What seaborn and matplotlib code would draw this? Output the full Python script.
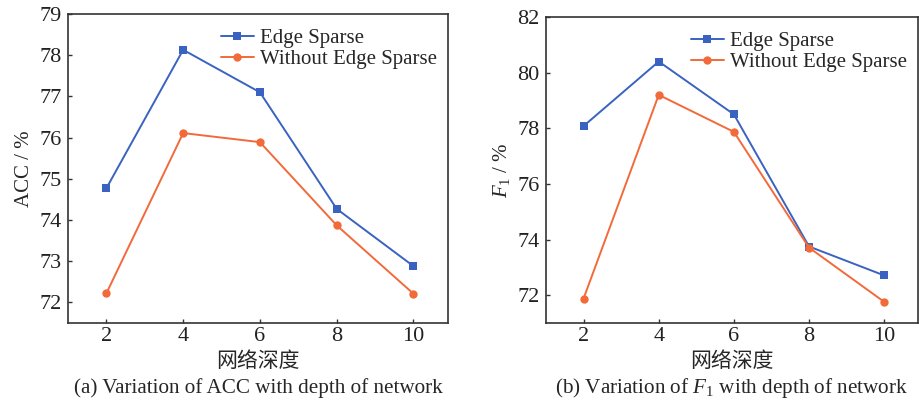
import matplotlib
matplotlib.use("Agg")
import matplotlib.pyplot as plt
import seaborn as sns
import pandas as pd

depth = [2, 4, 6, 8, 10]
acc_edge = [74.77, 78.13, 77.10, 74.27, 72.88]
acc_without = [72.22, 76.11, 75.89, 73.87, 72.21]
f1_edge = [78.08, 80.40, 78.50, 73.75, 72.71]
f1_without = [71.88, 79.20, 77.87, 73.71, 71.76]
series_names = ["Edge Sparse", "Without Edge Sparse"]
acc_ticks = [72, 73, 74, 75, 76, 77, 78, 79]
f1_ticks = [72, 74, 76, 78, 80, 82]
xlabel = "网络深度"
captions = ["(a) Variation of ACC with depth of network",
            "(b) Variation of $F_1$ with depth of network"]

sns.set_theme(style="white")
plt.rcParams['font.family'] = ['Liberation Serif', 'Noto Sans CJK SC']
plt.rcParams['mathtext.fontset'] = 'custom'
plt.rcParams['mathtext.rm'] = 'Liberation Serif'
plt.rcParams['mathtext.it'] = 'Liberation Serif:italic'

colors = ["#3A62C0", "#F26A3A"]
markers = ["s", "o"]

fig = plt.figure(figsize=(9.19, 4.01), dpi=100)
ax1 = fig.add_axes([68/919, 1-323/401, (448-68)/919, (323-14)/401])
ax2 = fig.add_axes([546/919, 1-323/401, (918-546)/919, (323-17)/401])

def make_df(a, b):
    return pd.DataFrame({
        "depth": depth * 2,
        "value": a + b,
        "series": [series_names[0]] * len(depth) + [series_names[1]] * len(depth),
    })

for ax, a, b, ticks, ylim, ylab, cap in [
    (ax1, acc_edge, acc_without, acc_ticks, (71.5, 79), "ACC / %", captions[0]),
    (ax2, f1_edge, f1_without, f1_ticks, (71, 82), "$F_1$ / %", captions[1]),
]:
    df = make_df(a, b)
    sns.lineplot(data=df, x="depth", y="value", hue="series", style="series",
                 markers=markers, dashes=False, palette=colors, ax=ax,
                 markersize=6, linewidth=1.4, markeredgewidth=0)
    ax.set_xlim(1, 10.9)
    ax.set_ylim(*ylim)
    ax.set_xticks(depth)
    ax.set_yticks(ticks)
    ax.tick_params(axis="both", labelsize=16, direction="in", length=3,
                   width=1, left=True, bottom=True, colors="#333333",
                   labelcolor="#222222")
    ax.tick_params(axis="y", pad=4.5)
    ax.tick_params(axis="x", pad=3)
    for s in ax.spines.values():
        s.set_color("#333333")
        s.set_linewidth(1.2)
    ax.set_xlabel(xlabel, fontsize=15, family=['Noto Sans CJK SC'], labelpad=3)
    ax.set_ylabel(ylab, fontsize=15, labelpad=4)
    ax.legend(loc="upper right", bbox_to_anchor=(1.01, 1.0), frameon=False,
              fontsize=15, labelspacing=0.05, handlelength=1.6,
              handletextpad=0.3, borderaxespad=0.3)
    bb = ax.get_position()
    fig.text((bb.x0 + bb.x1) / 2, 1 - 393/401, cap, ha="center", va="baseline",
             fontsize=15.2)

fig.savefig("out.png", dpi=100)
